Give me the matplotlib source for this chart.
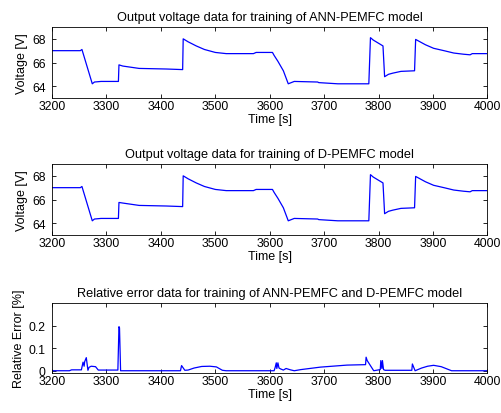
import matplotlib
matplotlib.use("Agg")
import matplotlib.pyplot as plt

plt.rcParams['font.family'] = ['Liberation Sans', 'DejaVu Sans']

# Output voltage (ANN-PEMFC) - breakpoints
t_ann = [3200, 3252, 3255, 3274, 3278, 3290, 3322, 3323, 3330, 3345, 3360, 3410, 3440, 3441,
         3450, 3465, 3480, 3500, 3520, 3570, 3575, 3605, 3608, 3615, 3625, 3634, 3645, 3688,
         3690, 3725, 3782, 3785, 3790, 3808, 3811, 3818, 3826, 3841, 3866, 3868, 3878, 3886,
         3901, 3920, 3938, 3956, 3968, 3972, 4000]
v_ann = [67.0, 67.0, 67.1, 64.2, 64.35, 64.4, 64.4, 65.8, 65.7, 65.6, 65.5, 65.45, 65.4, 68.0,
         67.75, 67.4, 67.1, 66.85, 66.75, 66.75, 66.85, 66.85, 66.6, 66.1, 65.3, 64.2, 64.4, 64.35,
         64.3, 64.2, 64.2, 68.1, 67.9, 67.4, 64.8, 65.0, 65.1, 65.25, 65.3, 67.95, 67.7, 67.5,
         67.2, 67.0, 66.8, 66.7, 66.65, 66.75, 66.75]

# Output voltage (D-PEMFC)
t_d = [3200, 3252, 3255, 3274, 3278, 3290, 3322, 3323, 3330, 3345, 3360, 3410, 3440, 3441,
       3450, 3465, 3480, 3500, 3520, 3570, 3575, 3605, 3608, 3615, 3625, 3634, 3645, 3688,
       3690, 3725, 3782, 3785, 3790, 3808, 3811, 3818, 3826, 3841, 3866, 3868, 3878, 3886,
       3901, 3920, 3938, 3956, 3968, 3972, 4000]
v_d = [67.0, 67.0, 67.1, 64.2, 64.35, 64.4, 64.4, 65.75, 65.7, 65.6, 65.5, 65.45, 65.4, 68.0,
       67.75, 67.4, 67.1, 66.85, 66.75, 66.75, 66.85, 66.85, 66.6, 66.1, 65.3, 64.2, 64.4, 64.35,
       64.3, 64.2, 64.2, 68.1, 67.9, 67.4, 64.8, 65.0, 65.1, 65.25, 65.3, 67.95, 67.7, 67.5,
       67.2, 67.0, 66.8, 66.7, 66.65, 66.75, 66.75]

# Relative error [%]
t_err = [3200, 3232, 3236, 3254, 3257, 3259, 3260, 3263, 3266, 3268, 3272, 3280, 3285, 3321,
         3323, 3324, 3326, 3436, 3438, 3444, 3450, 3461, 3475, 3490, 3502, 3513, 3520, 3608,
         3610, 3612, 3613, 3615, 3617, 3620, 3625, 3630, 3638, 3645, 3657, 3693, 3742, 3776,
         3777, 3779, 3791, 3803, 3804, 3806, 3807, 3809, 3812, 3861, 3862, 3867, 3879, 3890,
         3901, 3915, 3934, 4000]
e_err = [0.0, 0.0, 0.004, 0.004, 0.038, 0.02, 0.04, 0.058, 0.002, 0.015, 0.02, 0.018, 0.003, 0.003,
         0.195, 0.19, 0.0, 0.0, 0.023, 0.002, 0.003, 0.012, 0.019, 0.02, 0.017, 0.002, 0.0, 0.0,
         0.015, 0.035, 0.01, 0.035, 0.012, 0.008, 0.003, 0.01, 0.004, 0.0, 0.005, 0.016, 0.025, 0.027,
         0.06, 0.045, 0.0, 0.005, 0.045, 0.01, 0.045, 0.005, 0.002, 0.002, 0.03, 0.0, 0.012, 0.02,
         0.024, 0.018, 0.0, 0.0]

xticks = [3200, 3300, 3400, 3500, 3600, 3700, 3800, 3900, 4000]
vticks = [64, 66, 68]
eticks = [0, 0.1, 0.2]

fig = plt.figure(figsize=(5.02, 4.14), dpi=100)
W, H = 502, 414
left, right = 52, 487.5

def make_ax(top, bottom):
    return fig.add_axes([left / W, 1 - bottom / H, (right - left) / W, (bottom - top) / H])

panels = [
    (make_ax(28, 99), t_ann, v_ann, (63, 69), vticks, ['64', '66', '68'], 'Voltage [V]',
     'Output voltage data for training of ANN-PEMFC model'),
    (make_ax(165, 236), t_d, v_d, (63, 69), vticks, ['64', '66', '68'], 'Voltage [V]',
     'Output voltage data for training of D-PEMFC model'),
    (make_ax(304, 374), t_err, e_err, (-0.01, 0.3), eticks, ['0', '0.1', '0.2'], 'Relative Error [%]',
     'Relative error data for training of ANN-PEMFC and D-PEMFC model'),
]

for ax, t, v, yl, yt, ytl, ylab, title in panels:
    ax.plot(t, v, color=(0, 0, 1), linewidth=0.9)
    ax.set_xlim(3200, 4000)
    ax.set_ylim(*yl)
    ax.set_xticks(xticks)
    ax.set_xticklabels([str(x) for x in xticks], fontsize=8.8)
    ax.set_yticks(yt)
    ax.set_yticklabels(ytl, fontsize=8.8)
    ax.tick_params(direction='in', top=True, right=True, length=3, width=0.6)
    ax.tick_params(axis='x', pad=1.5)
    ax.tick_params(axis='y', pad=4.5)
    for s in ax.spines.values():
        s.set_linewidth(0.6)
    ax.set_xlabel('Time [s]', fontsize=9, labelpad=0.5)
    ax.set_ylabel(ylab, fontsize=9, labelpad=3)
    ax.set_title(title, fontsize=9.2, pad=5)

fig.savefig('out.png', dpi=100)
